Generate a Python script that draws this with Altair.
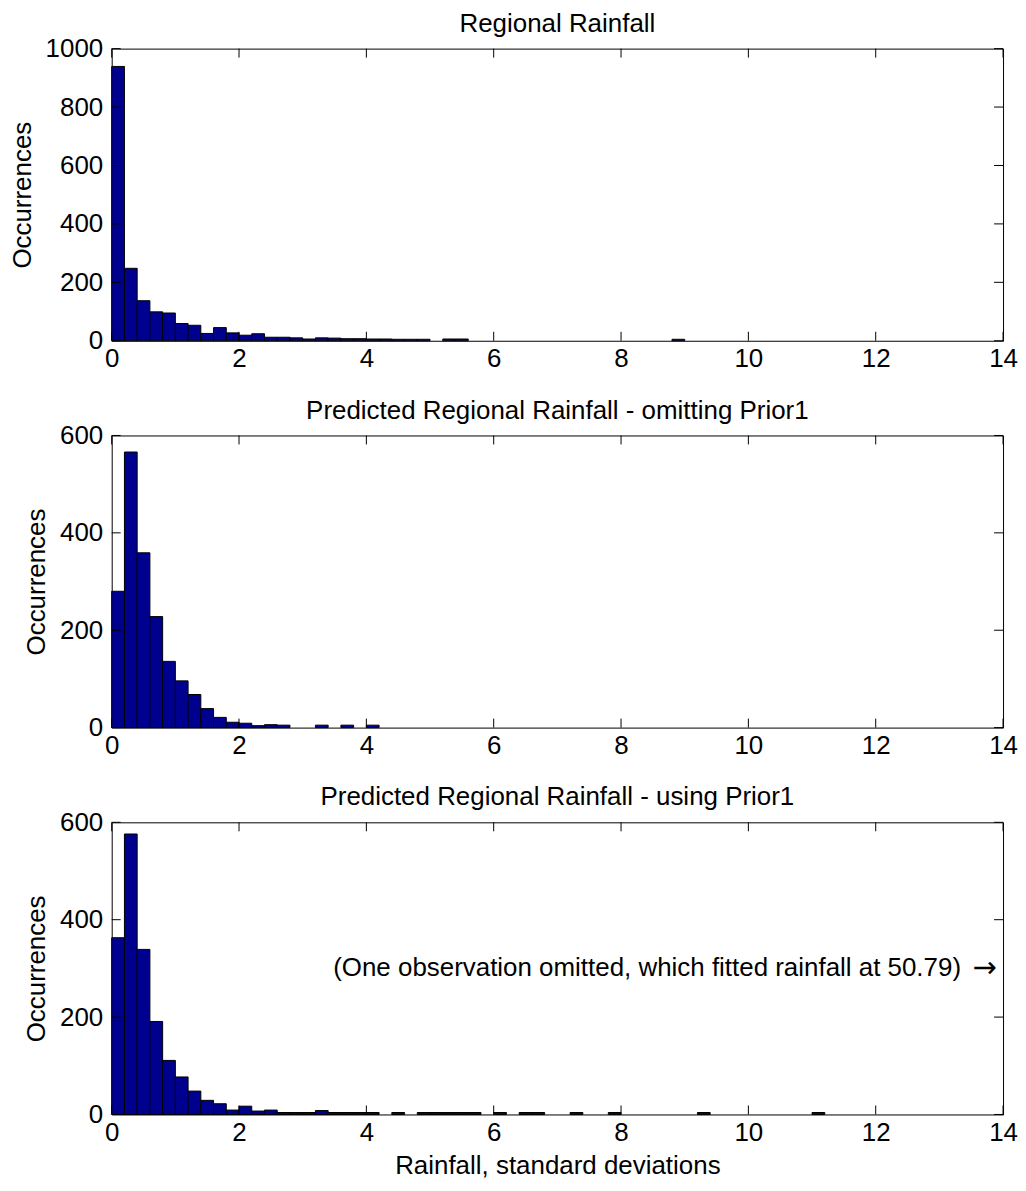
import altair as alt
import pandas as pd

FONT = "Liberation Sans"
BAR_FILL = "#00008F"

# ---- data: lower bin edge (bin width 0.2) and counts ----
p1_lo = [0.0, 0.2, 0.4, 0.6, 0.8, 1.0, 1.2, 1.4, 1.6, 1.8, 2.0, 2.2, 2.4, 2.6,
         2.8, 3.0, 3.2, 3.4, 3.6, 3.8, 4.0, 4.2, 4.4, 4.6, 4.8, 5.2, 5.4, 8.8]
p1_n = [939, 248, 137, 99, 95, 59, 53, 25, 45, 27, 19, 24, 12, 12,
        10, 6, 10, 9, 7, 7, 6, 6, 5, 5, 5, 6, 6, 5]

p2_lo = [0.0, 0.2, 0.4, 0.6, 0.8, 1.0, 1.2, 1.4, 1.6, 1.8, 2.0, 2.2, 2.4, 2.6,
         3.2, 3.6, 4.0]
p2_n = [280, 566, 359, 228, 136, 96, 68, 39, 21, 11, 9, 4, 6, 5,
        5, 5, 5]

p3_lo = [0.0, 0.2, 0.4, 0.6, 0.8, 1.0, 1.2, 1.4, 1.6, 1.8, 2.0, 2.2, 2.4, 2.6,
         2.8, 3.0, 3.2, 3.4, 3.6, 3.8, 4.0, 4.4, 4.8, 5.0, 5.2, 5.4, 5.6,
         6.0, 6.4, 6.6, 7.2, 7.8, 9.2, 11.0]
p3_n = [363, 576, 339, 191, 111, 77, 48, 29, 22, 9, 17, 7, 9, 4,
        4, 4, 8, 4, 4, 4, 4, 4, 4, 4, 4, 4, 4,
        4, 4, 4, 4, 4, 4, 4]

titles = ["Regional Rainfall",
          "Predicted Regional Rainfall - omitting Prior1",
          "Predicted Regional Rainfall - using Prior1"]
y_max = [1000, 600, 600]
x_ticks = [0, 2, 4, 6, 8, 10, 12, 14]
y_ticks_1 = [0, 200, 400, 600, 800, 1000]
y_ticks_23 = [0, 200, 400, 600]
x_title = "Rainfall, standard deviations"
y_title = "Occurrences"
note_text = ["(One observation omitted, which fitted rainfall at 50.79)"]
note_x = [13.34]
note_y = [300]
arrow_text = ["\u2192"]
arrow_x = [13.9]

BIN_W = 0.2
W, H = 894, 293
TICK = 9


def panel(lo, n, title, ymax, yticks, show_xtitle, note=False):
    df = pd.DataFrame({"lo": lo, "n": n})
    xs = alt.Scale(domain=[0, 14], nice=False, zero=False)
    ys = alt.Scale(domain=[0, ymax], nice=False)
    xaxis = alt.Axis(values=x_ticks, format="d", title=x_title if show_xtitle else None,
                     grid=False, domain=False, ticks=False, labelPadding=5,
                     labelFlush=False, labelOverlap=False, titlePadding=7)
    yaxis = alt.Axis(values=yticks, format="d", title=y_title, grid=False,
                     domain=False, ticks=False, labelPadding=9, titlePadding=10,
                     labelOverlap=False)
    bars = alt.Chart(df).transform_calculate(
        hi=f"datum.lo + {BIN_W}"
    ).mark_bar(fill=BAR_FILL, stroke="black", strokeWidth=1).encode(
        x=alt.X("lo:Q", scale=xs, axis=xaxis),
        x2="hi:Q",
        y=alt.Y("n:Q", scale=ys, axis=yaxis),
        y2=alt.datum(0),
    )
    xt = pd.DataFrame({"t": x_ticks})
    yt = pd.DataFrame({"v": yticks})
    xtick_top = alt.Chart(xt).mark_rule(color="black", strokeWidth=1).encode(
        x=alt.X("t:Q", scale=xs), y=alt.value(0), y2=alt.value(TICK))
    xtick_bot = alt.Chart(xt).mark_rule(color="black", strokeWidth=1).encode(
        x=alt.X("t:Q", scale=xs), y=alt.value(H - TICK), y2=alt.value(H))
    ytick_l = alt.Chart(yt).mark_rule(color="black", strokeWidth=1).encode(
        y=alt.Y("v:Q", scale=ys), x=alt.value(0), x2=alt.value(TICK))
    ytick_r = alt.Chart(yt).mark_rule(color="black", strokeWidth=1).encode(
        y=alt.Y("v:Q", scale=ys), x=alt.value(W - TICK), x2=alt.value(W))
    layers = [bars, xtick_top, xtick_bot, ytick_l, ytick_r]
    if note:
        ndf = pd.DataFrame({"x": note_x, "y": note_y, "t": note_text})
        layers.append(alt.Chart(ndf).mark_text(
            align="right", baseline="middle", font=FONT, fontSize=26, color="black"
        ).encode(x=alt.X("x:Q", scale=xs), y=alt.Y("y:Q", scale=ys), text="t:N"))
        adf = pd.DataFrame({"x": arrow_x, "y": note_y, "t": arrow_text})
        layers.append(alt.Chart(adf).mark_text(
            align="right", baseline="middle", font="DejaVu Sans", fontSize=29,
            color="black"
        ).encode(x=alt.X("x:Q", scale=xs), y=alt.Y("y:Q", scale=ys), text="t:N"))
    return alt.layer(*layers).properties(
        width=W, height=H,
        title=alt.TitleParams(title, font=FONT, fontSize=26, fontWeight="normal",
                              color="black", anchor="middle", offset=-1,
                              frame="group"),
    )


c1 = panel(p1_lo, p1_n, titles[0], y_max[0], y_ticks_1, False)
c2 = panel(p2_lo, p2_n, titles[1], y_max[1], y_ticks_23, False)
c3 = panel(p3_lo, p3_n, titles[2], y_max[2], y_ticks_23, True, note=True)

chart = alt.vconcat(
    c1, c2, c3, spacing=24, background="white",
    padding={"left": 0, "right": 0, "top": 0, "bottom": 0},
).configure_view(
    stroke="black", strokeWidth=1
).configure_axis(
    labelFont=FONT, labelFontSize=26, labelColor="black",
    titleFont=FONT, titleFontSize=26, titleColor="black", titleFontWeight="normal",
)

chart.save("out.html", embed_options={"renderer": "svg", "actions": False})
